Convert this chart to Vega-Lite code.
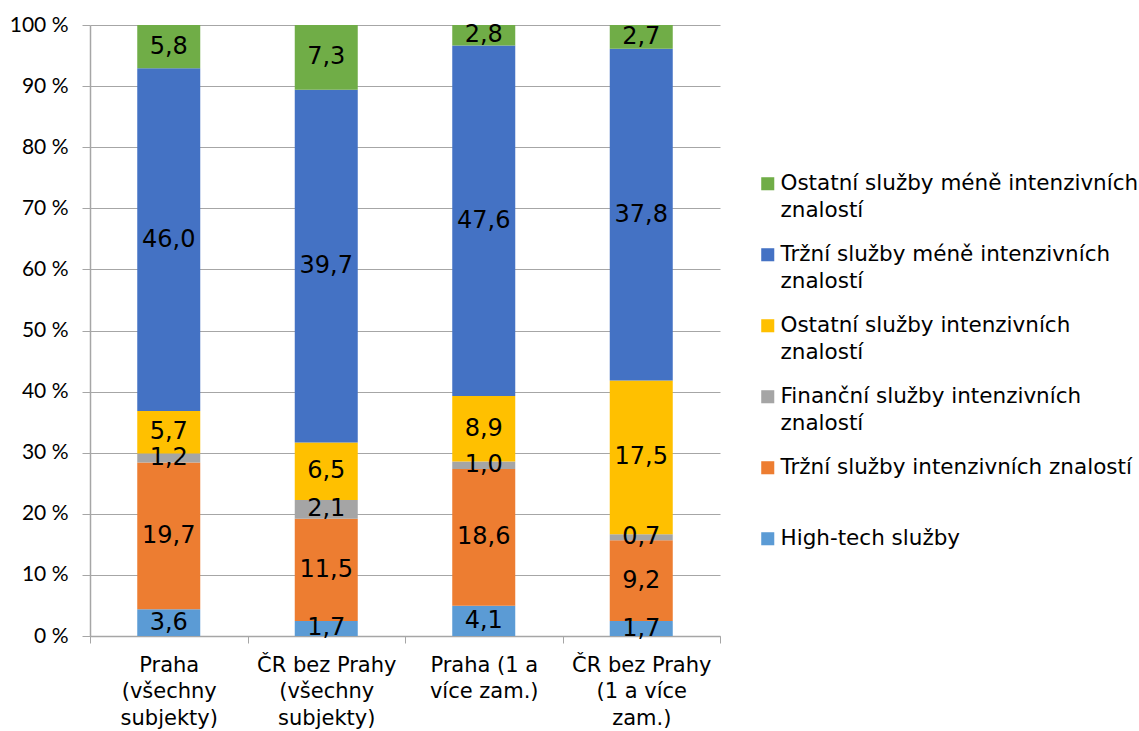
{
  "$schema": "https://vega.github.io/schema/vega-lite/v6.json",
  "width": 630,
  "height": 611,
  "autosize": "none",
  "padding": {"left": 90, "top": 25, "right": 419, "bottom": 95},
  "background": "white",
  "config": {
    "locale": {"number": {"decimal": ",", "thousands": " ", "grouping": [3], "currency": ["", " Kč"]}},
    "view": {"stroke": null},
    "axisY": {
      "grid": true, "gridColor": "#A6A6A6", "gridWidth": 1,
      "domainColor": "#A6A6A6", "domainWidth": 1.5, "tickColor": "#A6A6A6", "tickSize": 8,
      "labelFont": "Lato", "labelFontSize": 21, "labelColor": "#000000", "labelPadding": 14,
      "tickCount": 10,
      "labelExpr": "format(datum.value * 100, 'd') + ' %'"
    },
    "axisX": {
      "grid": false, "domainColor": "#A6A6A6", "domainWidth": 1.5, "tickColor": "#A6A6A6", "tickSize": 7,
      "tickBand": "extent",
      "labelFont": "DejaVu Sans", "labelFontSize": 21, "labelColor": "#000000", "labelAngle": 0,
      "labelLineHeight": 26.5, "labelPadding": 11, "labelBaseline": "top",
      "labelExpr": "datum.label == 'Praha (všechny subjekty)' ? ['Praha', '(všechny', 'subjekty)'] : datum.label == 'ČR bez Prahy (všechny subjekty)' ? ['ČR bez Prahy', '(všechny', 'subjekty)'] : datum.label == 'Praha (1 a více zam.)' ? ['Praha (1 a', 'více zam.)'] : datum.label == 'ČR bez Prahy (1 a více zam.)' ? ['ČR bez Prahy', '(1 a více', 'zam.)'] : ''"
    }
  },
  "data": {
    "values": [
      {"kategorie": "Praha (všechny subjekty)", "rada": "High-tech služby", "k": 1, "hodnota": 3.6},
      {"kategorie": "Praha (všechny subjekty)", "rada": "Tržní služby intenzivních znalostí", "k": 2, "hodnota": 19.7},
      {"kategorie": "Praha (všechny subjekty)", "rada": "Finanční služby intenzivních znalostí", "k": 3, "hodnota": 1.2},
      {"kategorie": "Praha (všechny subjekty)", "rada": "Ostatní služby intenzivních znalostí", "k": 4, "hodnota": 5.7},
      {"kategorie": "Praha (všechny subjekty)", "rada": "Tržní služby méně intenzivních znalostí", "k": 5, "hodnota": 46.0},
      {"kategorie": "Praha (všechny subjekty)", "rada": "Ostatní služby méně intenzivních znalostí", "k": 6, "hodnota": 5.8},
      {"kategorie": "ČR bez Prahy (všechny subjekty)", "rada": "High-tech služby", "k": 1, "hodnota": 1.7},
      {"kategorie": "ČR bez Prahy (všechny subjekty)", "rada": "Tržní služby intenzivních znalostí", "k": 2, "hodnota": 11.5},
      {"kategorie": "ČR bez Prahy (všechny subjekty)", "rada": "Finanční služby intenzivních znalostí", "k": 3, "hodnota": 2.1},
      {"kategorie": "ČR bez Prahy (všechny subjekty)", "rada": "Ostatní služby intenzivních znalostí", "k": 4, "hodnota": 6.5},
      {"kategorie": "ČR bez Prahy (všechny subjekty)", "rada": "Tržní služby méně intenzivních znalostí", "k": 5, "hodnota": 39.7},
      {"kategorie": "ČR bez Prahy (všechny subjekty)", "rada": "Ostatní služby méně intenzivních znalostí", "k": 6, "hodnota": 7.3},
      {"kategorie": "Praha (1 a více zam.)", "rada": "High-tech služby", "k": 1, "hodnota": 4.1},
      {"kategorie": "Praha (1 a více zam.)", "rada": "Tržní služby intenzivních znalostí", "k": 2, "hodnota": 18.6},
      {"kategorie": "Praha (1 a více zam.)", "rada": "Finanční služby intenzivních znalostí", "k": 3, "hodnota": 1.0},
      {"kategorie": "Praha (1 a více zam.)", "rada": "Ostatní služby intenzivních znalostí", "k": 4, "hodnota": 8.9},
      {"kategorie": "Praha (1 a více zam.)", "rada": "Tržní služby méně intenzivních znalostí", "k": 5, "hodnota": 47.6},
      {"kategorie": "Praha (1 a více zam.)", "rada": "Ostatní služby méně intenzivních znalostí", "k": 6, "hodnota": 2.8},
      {"kategorie": "ČR bez Prahy (1 a více zam.)", "rada": "High-tech služby", "k": 1, "hodnota": 1.7},
      {"kategorie": "ČR bez Prahy (1 a více zam.)", "rada": "Tržní služby intenzivních znalostí", "k": 2, "hodnota": 9.2},
      {"kategorie": "ČR bez Prahy (1 a více zam.)", "rada": "Finanční služby intenzivních znalostí", "k": 3, "hodnota": 0.7},
      {"kategorie": "ČR bez Prahy (1 a více zam.)", "rada": "Ostatní služby intenzivních znalostí", "k": 4, "hodnota": 17.5},
      {"kategorie": "ČR bez Prahy (1 a více zam.)", "rada": "Tržní služby méně intenzivních znalostí", "k": 5, "hodnota": 37.8},
      {"kategorie": "ČR bez Prahy (1 a více zam.)", "rada": "Ostatní služby méně intenzivních znalostí", "k": 6, "hodnota": 2.7}
    ]
  },
  "encoding": {
    "x": {
      "field": "kategorie", "type": "nominal", "sort": null, "title": null,
      "scale": {"paddingInner": 0, "paddingOuter": 0}
    }
  },
  "layer": [
    {
      "mark": {"type": "bar", "width": {"band": 0.4}},
      "encoding": {
        "y": {"field": "hodnota", "type": "quantitative", "stack": "normalize", "title": null, "scale": {"domain": [0, 1]}},
        "order": {"field": "k", "type": "quantitative"},
        "color": {
          "field": "rada", "type": "nominal",
          "scale": {
            "domain": [
              "Ostatní služby méně intenzivních znalostí",
              "Tržní služby méně intenzivních znalostí",
              "Ostatní služby intenzivních znalostí",
              "Finanční služby intenzivních znalostí",
              "Tržní služby intenzivních znalostí",
              "High-tech služby"
            ],
            "range": ["#70AD47", "#4472C4", "#FFC000", "#A5A5A5", "#ED7D31", "#5B9BD5"]
          },
          "legend": {
            "title": null,
            "orient": "none",
            "legendX": 667,
            "legendY": 148,
            "padding": 0,
            "symbolType": "square",
            "symbolSize": 170,
            "symbolStrokeWidth": 0,
            "labelFont": "DejaVu Sans",
            "labelFontSize": 21.5,
            "labelColor": "#000000",
            "labelLimit": 500,
            "labelOffset": 2,
            "rowPadding": 21,
            "labelExpr": "datum.label == 'High-tech služby' || datum.label == 'Tržní služby intenzivních znalostí' ? [datum.label, ' '] : [substring(datum.label, 0, lastindexof(datum.label, ' ')), substring(datum.label, lastindexof(datum.label, ' ') + 1)]",
            "encoding": {"labels": {"lineHeight": {"value": 27}}}
          }
        }
      }
    },
    {
      "mark": {"type": "text", "font": "DejaVu Sans", "fontSize": 24, "color": "#000000", "baseline": "middle"},
      "encoding": {
        "y": {"field": "hodnota", "type": "quantitative", "stack": "normalize", "bandPosition": 0.5, "title": null},
        "order": {"field": "k", "type": "quantitative"},
        "detail": {"field": "rada", "type": "nominal"},
        "text": {"field": "hodnota", "type": "quantitative", "format": ".1f"}
      }
    }
  ]
}
